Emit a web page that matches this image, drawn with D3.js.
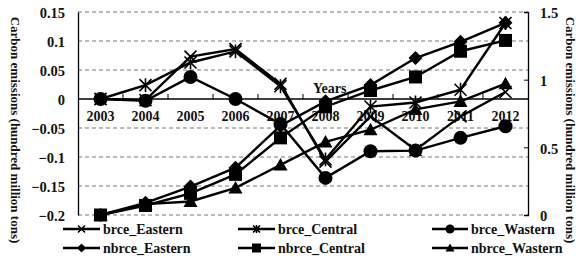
<!DOCTYPE html>
<html><head><meta charset="utf-8">
<script src="https://cdn.jsdelivr.net/npm/d3@7"></script>
<style>
html,body{margin:0;padding:0;background:#fff;}
svg{display:block;}
text{font-family:"Liberation Serif","Times New Roman",serif;font-weight:bold;fill:#111;}
</style></head><body>
<svg id="chart" width="576" height="258"></svg>
<script>
const years = ["2003","2004","2005","2006","2007","2008","2009","2010","2011","2012"];
const leftTicks = [0.15, 0.1, 0.05, 0, -0.05, -0.1, -0.15, -0.2];
const rightTicks = [0, 0.5, 1, 1.5];
const brce_Eastern = [0, -0.002, 0.073, 0.086, 0.026, -0.108, -0.03, -0.088, -0.03, 0.012];
const brce_Central = [0, 0.024, 0.063, 0.082, 0.022, -0.104, -0.013, -0.006, 0.016, 0.131];
const brce_Wastern = [0, -0.003, 0.038, 0, -0.043, -0.136, -0.090, -0.089, -0.067, -0.047];
const nbrce_Eastern = [0, 0.09, 0.21, 0.35, 0.66, 0.84, 0.96, 1.16, 1.28, 1.42];
const nbrce_Central = [0, 0.07, 0.16, 0.30, 0.57, 0.80, 0.92, 1.02, 1.21, 1.29];
const nbrce_Wastern = [0, 0.08, 0.10, 0.20, 0.37, 0.54, 0.63, 0.78, 0.84, 0.97];

const series = [
  {name:"brce_Eastern", values:brce_Eastern, axis:"L", marker:"x"},
  {name:"brce_Central", values:brce_Central, axis:"L", marker:"ast"},
  {name:"brce_Wastern", values:brce_Wastern, axis:"L", marker:"circle"},
  {name:"nbrce_Eastern", values:nbrce_Eastern, axis:"R", marker:"diamond"},
  {name:"nbrce_Central", values:nbrce_Central, axis:"R", marker:"square"},
  {name:"nbrce_Wastern", values:nbrce_Wastern, axis:"R", marker:"triangle"}
];

const svg = d3.select("#chart");
const L = 78, R = 528, T = 12, B = 215;
const x = d3.scaleBand().domain(years).range([L, R]).padding(0);
const cx = d => x(d) + x.bandwidth()/2;
const yL = d3.scaleLinear().domain([-0.2, 0.15]).range([B, T]);
const yR = d3.scaleLinear().domain([0, 1.5]).range([B, T]);

// gridlines
svg.append("g").selectAll("line").data(leftTicks.filter(t => t !== 0)).join("line")
  .attr("x1", L).attr("x2", R).attr("y1", d => yL(d)).attr("y2", d => yL(d))
  .attr("stroke", "#777").attr("stroke-width", 1).attr("stroke-dasharray", "4,3");

// left axis
const gL = svg.append("g").attr("transform", `translate(${L},0)`)
  .call(d3.axisLeft(yL).tickValues(leftTicks).tickSize(0).tickPadding(13).tickFormat(d => d3.format("")(d)));
gL.select(".domain").attr("stroke", "#000").attr("stroke-width", 1.3);
gL.selectAll("text").attr("font-size", 14.5).attr("dy", "0.4em")
  .style("font-family", "Liberation Serif").style("font-weight", "bold");

// right axis
const gR = svg.append("g").attr("transform", `translate(${R},0)`)
  .call(d3.axisRight(yR).tickValues(rightTicks).tickSize(-4).tickPadding(12).tickFormat(d => d3.format("")(d)));
gR.select(".domain").attr("stroke", "#000").attr("stroke-width", 1.3);
gR.selectAll(".tick line").attr("stroke", "#000");
gR.selectAll("text").attr("font-size", 14.5).attr("dy", "0.4em")
  .style("font-family", "Liberation Serif").style("font-weight", "bold");

// x axis at y=0
const xAxisY = yL(0);
svg.append("line").attr("x1", L).attr("x2", R).attr("y1", xAxisY).attr("y2", xAxisY)
  .attr("stroke", "#000").attr("stroke-width", 1.5);
svg.append("g").selectAll("line").data(years.slice(1)).join("line")
  .attr("x1", d => x(d)).attr("x2", d => x(d)).attr("y1", xAxisY).attr("y2", xAxisY - 5)
  .attr("stroke", "#000").attr("stroke-width", 1);
svg.append("g").selectAll("text").data(years).join("text")
  .attr("x", d => cx(d)).attr("y", xAxisY + 22).attr("text-anchor", "middle")
  .attr("font-size", 14).text(d => d);
svg.append("text").attr("x", 313).attr("y", 93).attr("font-size", 14).text("Years");

// axis titles
svg.append("text").attr("transform", "translate(11,130) rotate(90)").attr("text-anchor", "middle")
  .attr("font-size", 13).text("Carbon emissions (hundred million tons)");
svg.append("text").attr("transform", "translate(566,130) rotate(90)").attr("text-anchor", "middle")
  .attr("font-size", 13).text("Carbon emissions (hundred million tons)");

// marker drawing
function drawMarker(g, type, s) {
  const h = s/2;
  if (type === "x") {
    g.append("path").attr("d", `M${-h},${-h}L${h},${h}M${-h},${h}L${h},${-h}`)
      .attr("stroke", "#000").attr("stroke-width", 1.6).attr("fill", "none");
  } else if (type === "ast") {
    g.append("path").attr("d", `M${-h},${-h}L${h},${h}M${-h},${h}L${h},${-h}M0,${-h*1.15}L0,${h*1.15}`)
      .attr("stroke", "#000").attr("stroke-width", 1.6).attr("fill", "none");
  } else if (type === "circle") {
    g.append("circle").attr("r", h).attr("fill", "#000");
  } else if (type === "diamond") {
    g.append("path").attr("d", `M0,${-h}L${h},0L0,${h}L${-h},0Z`).attr("fill", "#000");
  } else if (type === "square") {
    g.append("rect").attr("x", -h).attr("y", -h).attr("width", s).attr("height", s).attr("fill", "#000");
  } else if (type === "triangle") {
    g.append("path").attr("d", `M0,${-h}L${h},${h*0.8}L${-h},${h*0.8}Z`).attr("fill", "#000");
  }
}
const markerSize = {x:12, ast:12, circle:14, diamond:14, square:13, triangle:14};

// lines
series.forEach(s => {
  const y = s.axis === "L" ? yL : yR;
  const line = d3.line().x((d, i) => cx(years[i])).y(d => y(d));
  svg.append("path").datum(s.values).attr("d", line)
    .attr("fill", "none").attr("stroke", "#000").attr("stroke-width", 2.4);
});
series.forEach(s => {
  const y = s.axis === "L" ? yL : yR;
  s.values.forEach((v, i) => {
    const g = svg.append("g").attr("transform", `translate(${cx(years[i])},${y(v)})`);
    drawMarker(g, s.marker, markerSize[s.marker]);
  });
});

// legend
const legCols = [{x1:63, x2:100}, {x1:238, x2:275}, {x1:432, x2:468}];
const legRows = [229, 248];
const legOrder = [[0,1,2],[3,4,5]];
legOrder.forEach((row, ri) => row.forEach((si, ci) => {
  const s = series[si], c = legCols[ci], yy = legRows[ri];
  svg.append("line").attr("x1", c.x1).attr("x2", c.x2).attr("y1", yy).attr("y2", yy)
    .attr("stroke", "#000").attr("stroke-width", 2.6);
  const g = svg.append("g").attr("transform", `translate(${(c.x1+c.x2)/2},${yy})`);
  drawMarker(g, s.marker, s.marker === "x" || s.marker === "ast" ? 7 : 9);
  svg.append("text").attr("x", c.x2 + 3).attr("y", yy + 5).attr("font-size", 14).text(s.name);
}));
</script>
</body></html>
